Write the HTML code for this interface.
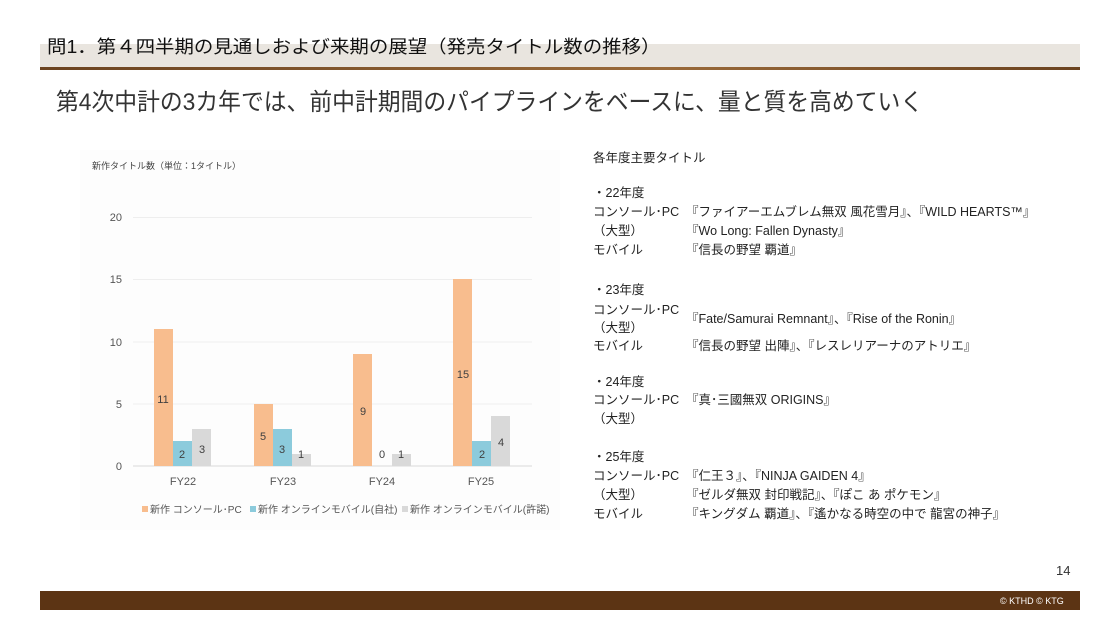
<!DOCTYPE html>
<html><head><meta charset="utf-8"><style>
body{margin:0;width:1118px;height:626px;background:#fff;position:relative;overflow:hidden;font-family:"Liberation Sans","Noto Sans CJK JP",sans-serif;color:#222}
.a{position:absolute;white-space:nowrap}
.r{font-size:12.5px;line-height:16px}
</style></head><body>
<div class="a" style="left:40px;top:44px;width:1040px;height:24px;background:#e9e5df"></div>
<div class="a" style="left:40px;top:67px;width:1040px;height:3px;background:linear-gradient(90deg,#6b4320,#9a6a3a 60%,#6b4320)"></div>
<div class="a" style="left:47px;top:35px;font-size:18px;line-height:24px;color:#111;transform:scaleX(1.08);transform-origin:left">問1．第４四半期の見通しおよび来期の展望（発売タイトル数の推移）</div>
<div class="a" style="left:56px;top:88px;font-size:24px;line-height:30px;color:#333;transform:scaleX(0.95);transform-origin:left">第4次中計の3カ年では、前中計期間のパイプラインをベースに、量と質を高めていく</div>

<svg class="a" style="left:0;top:0" width="1118" height="626">
<rect x="80" y="150" width="480" height="380" fill="#fdfdfd"/>
<text x="92" y="169" font-size="9" fill="#444" font-family="Liberation Sans,Noto Sans CJK JP,sans-serif">新作タイトル数（単位：1タイトル）</text>
<g stroke="#eeeeee" stroke-width="1">
<line x1="133" x2="532" y1="217.5" y2="217.5"/><line x1="133" x2="532" y1="279.5" y2="279.5"/><line x1="133" x2="532" y1="342" y2="342"/><line x1="133" x2="532" y1="404" y2="404"/></g>
<line x1="133" x2="532" y1="466" y2="466" stroke="#d9d9d9"/>
<g font-size="11" fill="#555" text-anchor="end" font-family="Liberation Sans,sans-serif">
<text x="122" y="221">20</text><text x="122" y="283">15</text><text x="122" y="346">10</text><text x="122" y="408">5</text><text x="122" y="470">0</text></g>
<g fill="#f8bd8e">
<rect x="154" y="329" width="19" height="137"/><rect x="254" y="404" width="19" height="62"/><rect x="353" y="354" width="19" height="112"/><rect x="453" y="279" width="19" height="187"/></g>
<g fill="#8ccbdc">
<rect x="173" y="441" width="19" height="25"/><rect x="273" y="429" width="19" height="37"/><rect x="472" y="441" width="19" height="25"/></g>
<g fill="#d9d9d9">
<rect x="192" y="429" width="19" height="37"/><rect x="292" y="454" width="19" height="12"/><rect x="392" y="454" width="19" height="12"/><rect x="491" y="416" width="19" height="50"/></g>
<g font-size="11" fill="#404040" text-anchor="middle" font-family="Liberation Sans,sans-serif">
<text x="163" y="403">11</text><text x="182" y="458">2</text><text x="202" y="453">3</text>
<text x="263" y="440">5</text><text x="282" y="453">3</text><text x="301" y="458">1</text>
<text x="363" y="415">9</text><text x="382" y="458">0</text><text x="401" y="458">1</text>
<text x="463" y="378">15</text><text x="482" y="458">2</text><text x="501" y="446">4</text>
<text x="183" y="485" fill="#555">FY22</text><text x="283" y="485" fill="#555">FY23</text><text x="382" y="485" fill="#555">FY24</text><text x="481" y="485" fill="#555">FY25</text></g>
<g font-size="10" fill="#555" font-family="Liberation Sans,Noto Sans CJK JP,sans-serif">
<rect x="142" y="506" width="6" height="6" fill="#f8bd8e"/><text x="150" y="513">新作 コンソール･PC</text>
<rect x="250" y="506" width="6" height="6" fill="#8ccbdc"/><text x="258" y="513">新作 オンラインモバイル(自社)</text>
<rect x="402" y="506" width="6" height="6" fill="#d9d9d9"/><text x="410" y="513">新作 オンラインモバイル(許諾)</text></g>
</svg>

<div class="a r" style="left:593px;top:150px">各年度主要タイトル</div>
<div class="a r" style="left:593px;top:185px">・22年度</div>
<div class="a r" style="left:593px;top:204px">コンソール･PC</div>
<div class="a r" style="left:593px;top:223px">（大型）</div>
<div class="a r" style="left:593px;top:242px">モバイル</div>
<div class="a r" style="left:686px;top:204px">『ファイアーエムブレム無双 風花雪月』、『WILD HEARTS™』</div>
<div class="a r" style="left:686px;top:223px">『Wo Long: Fallen Dynasty』</div>
<div class="a r" style="left:686px;top:242px">『信長の野望 覇道』</div>
<div class="a r" style="left:593px;top:282px">・23年度</div>
<div class="a r" style="left:593px;top:302px">コンソール･PC</div>
<div class="a r" style="left:593px;top:320px">（大型）</div>
<div class="a r" style="left:593px;top:338px">モバイル</div>
<div class="a r" style="left:686px;top:311px">『Fate/Samurai Remnant』、『Rise of the Ronin』</div>
<div class="a r" style="left:686px;top:338px">『信長の野望 出陣』、『レスレリアーナのアトリエ』</div>
<div class="a r" style="left:593px;top:374px">・24年度</div>
<div class="a r" style="left:593px;top:392px">コンソール･PC</div>
<div class="a r" style="left:593px;top:411px">（大型）</div>
<div class="a r" style="left:686px;top:392px">『真･三國無双 ORIGINS』</div>
<div class="a r" style="left:593px;top:449px">・25年度</div>
<div class="a r" style="left:593px;top:468px">コンソール･PC</div>
<div class="a r" style="left:593px;top:487px">（大型）</div>
<div class="a r" style="left:593px;top:506px">モバイル</div>
<div class="a r" style="left:686px;top:468px">『仁王３』、『NINJA GAIDEN 4』</div>
<div class="a r" style="left:686px;top:487px">『ゼルダ無双 封印戦記』、『ぽこ あ ポケモン』</div>
<div class="a r" style="left:686px;top:506px">『キングダム 覇道』、『遙かなる時空の中で 龍宮の神子』</div>

<div class="a" style="left:1056px;top:563px;font-size:13px;color:#333">14</div>
<div class="a" style="left:40px;top:591px;width:1040px;height:19px;background:#5c3414"></div>
<div class="a" style="left:1000px;top:596px;font-size:9px;color:#fff">© KTHD © KTG</div>
</body></html>
